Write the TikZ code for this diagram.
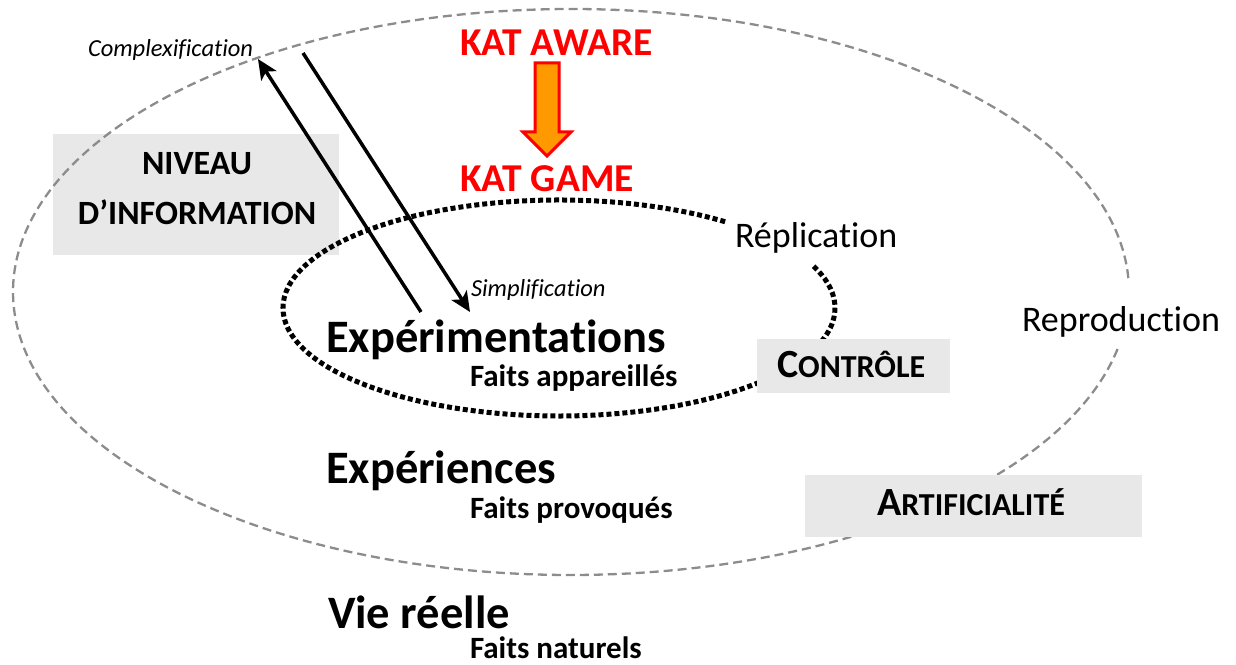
\documentclass[tikz,border=0pt]{standalone}
\usepackage{fontspec}
\setmainfont{Carlito}[RawFeature={-liga;-dlig;-clig}]
\usetikzlibrary{arrows.meta}
\definecolor{boxgray}{HTML}{E8E8E8}
\definecolor{ellgray}{HTML}{8C8C8C}
\definecolor{katred}{HTML}{FF0000}
\definecolor{katorange}{HTML}{FF9900}
\tikzset{
  outerell/.style={draw=ellgray, line width=2.3pt, dash pattern=on 9pt off 5pt},
  innerell/.style={draw=black, line width=5pt, dash pattern=on 5pt off 3pt},
  greybox/.style={fill=boxgray, draw=none},
  conn/.style={line width=3.5pt, -{Stealth[length=20pt,width=18pt,inset=5pt]}},
  lbl/.style={anchor=base west, inner sep=0pt, outer sep=0pt},
  ctr/.style={anchor=base, inner sep=0pt, outer sep=0pt},
  big/.style={font=\fontsize{46.5}{50}\selectfont\bfseries},
  sub/.style={font=\fontsize{31}{34}\selectfont\bfseries},
  small/.style={font=\fontsize{24.5}{28}\selectfont\itshape},
  plain/.style={font=\fontsize{36}{40}\selectfont},
  kat/.style={font=\fontsize{39.5}{42}\selectfont\bfseries, text=katred},
  boxtxt/.style={font=\fontsize{34}{38}\selectfont\bfseries},
}
\newcommand{\scap}[2]{{\fontsize{40}{44}\selectfont #1}{\fontsize{32}{36}\selectfont #2}}
\begin{document}
\begin{tikzpicture}[x=1pt,y=1pt]
\useasboundingbox (0,0) rectangle (1236,664);

% NIVEAU box
\fill[greybox] (53,530) rectangle (339,409);
\node[ctr, boxtxt] (niv1) at (197,489) {NIVEAU};
\node[ctr, boxtxt] (niv2) at (197,439) {D’INFORMATION};

% outer ellipse (gap at Reproduction)
\draw[outerell] (571,372) ++(2.8:558pt and 283pt)
  arc[start angle=2.8, end angle=349.2, x radius=558pt, y radius=283pt];

% ARTIFICIALITE box
\fill[greybox] (805,189) rectangle (1142,127);
\node[lbl] (artif) at (877,149) {\bfseries\scap{A}{RTIFICIALITÉ}};

% inner ellipse (gap at Replication)
\draw[innerell] (559,356) ++(53:276pt and 108pt)
  arc[start angle=53, end angle=383.6, x radius=276pt, y radius=108pt];

% CONTROLE box
\fill[greybox] (757,325) rectangle (950,271);
\node[lbl] (ctrl) at (777,286) {\bfseries\scap{C}{ONTRÔLE}};

% orange arrow
\draw[draw=katred, fill=katorange, line width=3pt, line join=miter]
  (535,601) -- (559,601) -- (559,532) -- (571,532) -- (547,508)
  -- (523,532) -- (535,532) -- cycle;

% texts
\node[lbl, kat] (aware) at (460,608) {KAT AWARE};
\node[lbl, kat] (game) at (460,472) {KAT GAME};
\node[lbl, small] (complex) at (88,607) {Complexification};
\node[lbl, small] (simpl) at (471,367) {Simplification};
\node[lbl, plain] (repl) at (735,416) {Réplication};
\node[lbl, plain] (repro) at (1022,332) {Reproduction};
\node[lbl, big] (exper) at (326,311) {Expérimentations};
\node[lbl, sub] (fapp) at (470,277) {Faits appareillés};
\node[lbl, big] (expce) at (326,180) {Expériences};
\node[lbl, sub] (fprov) at (470,146) {Faits provoqués};
\node[lbl, big] (vie) at (328,36) {Vie réelle};
\node[lbl, sub] (fnat) at (470,6) {Faits naturels};

% arrows
\coordinate (upstart) at (421,352);
\coordinate (uptip) at (258,605);
\coordinate (dnstart) at (303,611);
\coordinate (dntip) at (470,352);
\draw[conn] (upstart) -- (uptip);
\draw[conn] (dnstart) -- (dntip);
\end{tikzpicture}
\end{document}
